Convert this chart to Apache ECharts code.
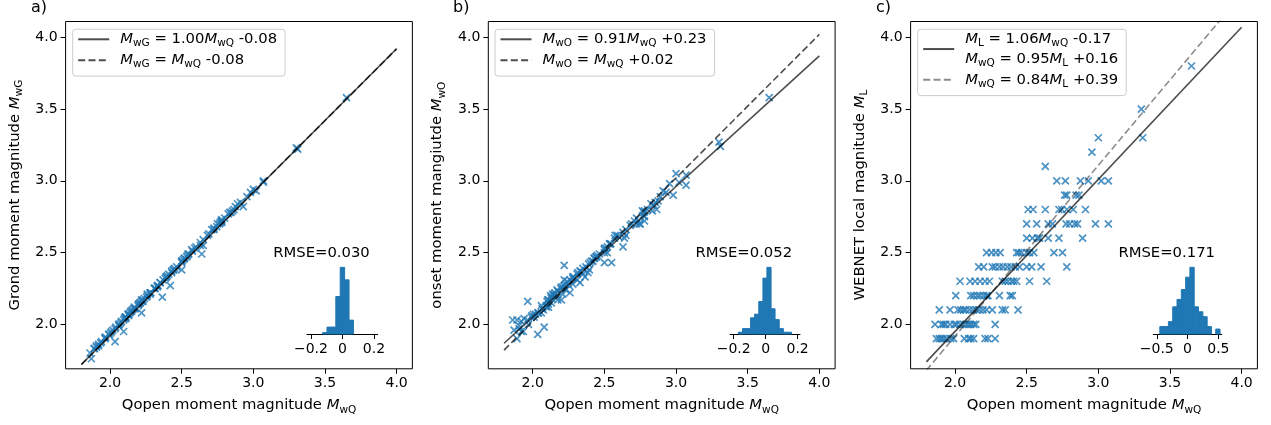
<!DOCTYPE html>
<html><head><meta charset="utf-8">
<script src="https://cdn.jsdelivr.net/npm/echarts@6/dist/echarts.min.js"></script>
<style>html,body{margin:0;padding:0;background:#fff}#c{width:1271px;height:425px}</style>
</head><body><div id="c"></div><script>
// ---------- DATA ----------
const mwQ = [3.65,
 3.30,
 3.00, 3.31,
 2.955,
 2.63,
 2.71, 2.77, 2.875, 2.93, 3.02, 3.07,
 2.765, 2.78, 2.845, 2.865,
 2.51, 2.545, 2.63, 2.725, 2.745, 2.78, 2.825, 2.91,
 2.50, 2.57, 2.65, 2.68, 2.775, 2.80, 2.835, 2.855, 2.98, 3.07,
 2.50, 2.54, 2.575, 2.59, 2.65, 2.725, 2.89,
 2.22, 2.255, 2.285, 2.315, 2.43, 2.445, 2.465, 2.50, 2.52, 2.55, 2.69, 2.75,
 2.165, 2.20, 2.26, 2.28, 2.31, 2.335, 2.365, 2.39, 2.42, 2.45, 2.50, 2.535, 2.60, 2.78,
 2.035, 2.105, 2.14, 2.175, 2.21, 2.24, 2.33, 2.35, 2.37, 2.395, 2.41, 2.43, 2.52, 2.64,
 2.005, 2.11, 2.13, 2.155, 2.175, 2.20, 2.22, 2.23, 2.31, 2.385, 2.40,
 1.89, 1.965, 2.02, 2.04, 2.06, 2.075, 2.10, 2.125, 2.15, 2.17, 2.195, 2.22, 2.26, 2.33, 2.35, 2.44,
 1.86, 1.905, 1.92, 1.935, 1.965, 1.995, 2.01, 2.035, 2.06, 2.08, 2.095, 2.11, 2.13, 2.145, 2.28,
 1.87, 1.89, 1.905, 1.92, 1.94, 1.97, 1.99, 2.065, 2.095, 2.11, 2.13, 2.21, 2.23, 2.28];

const mwG = [3.58,
 3.23,
 2.94, 3.22,
 2.89,
 2.57,
 2.66, 2.71, 2.82, 2.82, 2.93, 2.99,
 2.70, 2.72, 2.78, 2.80,
 2.45, 2.49, 2.55, 2.67, 2.68, 2.73, 2.77, 2.85,
 2.44, 2.52, 2.59, 2.62, 2.72, 2.74, 2.78, 2.79, 2.92, 3.00,
 2.38, 2.48, 2.51, 2.53, 2.55, 2.66, 2.84,
 2.16, 2.19, 2.22, 2.25, 2.37, 2.38, 2.40, 2.44, 2.46, 2.49, 2.63, 2.70,
 2.11, 2.14, 2.20, 2.22, 2.25, 2.27, 2.19, 2.33, 2.27, 2.39, 2.43, 2.47, 2.54, 2.71,
 1.97, 2.05, 2.08, 2.11, 2.15, 2.18, 2.27, 2.29, 2.31, 2.33, 2.35, 2.36, 2.46, 2.49,
 1.94, 2.05, 2.07, 2.10, 2.11, 2.14, 2.08, 2.17, 2.25, 2.32, 2.34,
 1.83, 1.90, 1.96, 1.98, 2.00, 2.01, 2.04, 2.07, 2.09, 2.12, 2.13, 2.17, 2.21, 2.26, 2.29, 2.38,
 1.80, 1.84, 1.86, 1.87, 1.91, 1.93, 1.95, 1.88, 1.99, 2.02, 1.95, 2.05, 2.06, 2.09, 2.22,
 1.76, 1.83, 1.85, 1.85, 1.88, 1.91, 1.93, 2.00, 2.03, 2.04, 2.07, 2.15, 2.16, 2.21];

const mwO = [3.58,
 3.27,
 3.05, 3.24,
 2.98,
 2.64,
 2.72, 2.76, 2.86, 2.92, 2.99, 2.97,
 2.79, 2.75, 2.83, 2.80,
 2.53, 2.56, 2.54, 2.74, 2.70, 2.79, 2.84, 2.93,
 2.52, 2.60, 2.66, 2.69, 2.78, 2.80, 2.79, 2.85, 2.90, 3.04,
 2.43, 2.56, 2.62, 2.62, 2.62, 2.70, 2.89,
 2.31, 2.27, 2.33, 2.36, 2.46, 2.47, 2.49, 2.53, 2.54, 2.43, 2.70, 2.70,
 2.19, 2.17, 2.22, 2.32, 2.35, 2.37, 2.33, 2.42, 2.44, 2.48, 2.50, 2.56, 2.61, 2.72,
 2.08, 2.17, 2.21, 2.23, 2.26, 2.30, 2.37, 2.39, 2.40, 2.38, 2.44, 2.46, 2.50, 2.60,
 2.07, 2.14, 2.19, 2.22, 2.17, 2.26, 2.41, 2.28, 2.31, 2.36, 2.43,
 1.90, 2.16, 2.07, 2.08, 2.13, 2.10, 2.16, 2.20, 2.21, 2.24, 2.25, 2.27, 2.31, 2.29, 2.35, 2.47,
 2.03, 1.97, 2.02, 1.95, 2.03, 2.06, 2.05, 1.93, 2.08, 1.98, 2.12, 2.17, 2.15, 2.20, 2.28,
 1.96, 2.03, 1.99, 1.95, 2.04, 2.00, 2.05, 2.11, 2.13, 2.12, 2.18, 2.21, 2.24, 2.33];

const mL = [3.8,
 3.5,
 3.3, 3.3,
 3.2,
 3.1,
 3.0, 3.0, 3.0, 3.0, 3.0, 3.0,
 2.9, 2.9, 2.9, 2.9,
 2.8, 2.8, 2.8, 2.8, 2.8, 2.8, 2.8, 2.8,
 2.7, 2.7, 2.7, 2.7, 2.7, 2.7, 2.7, 2.7, 2.7, 2.7,
 2.6, 2.6, 2.6, 2.6, 2.6, 2.6, 2.6,
 2.5, 2.5, 2.5, 2.5, 2.5, 2.5, 2.5, 2.5, 2.5, 2.5, 2.5, 2.5,
 2.4, 2.4, 2.4, 2.4, 2.4, 2.4, 2.4, 2.4, 2.4, 2.4, 2.4, 2.4, 2.4, 2.4,
 2.3, 2.3, 2.3, 2.3, 2.3, 2.3, 2.3, 2.3, 2.3, 2.3, 2.3, 2.3, 2.3, 2.3,
 2.2, 2.2, 2.2, 2.2, 2.2, 2.2, 2.2, 2.2, 2.2, 2.2, 2.2,
 2.1, 2.1, 2.1, 2.1, 2.1, 2.1, 2.1, 2.1, 2.1, 2.1, 2.1, 2.1, 2.1, 2.1, 2.1, 2.1,
 2.0, 2.0, 2.0, 2.0, 2.0, 2.0, 2.0, 2.0, 2.0, 2.0, 2.0, 2.0, 2.0, 2.0, 2.0,
 1.9, 1.9, 1.9, 1.9, 1.9, 1.9, 1.9, 1.9, 1.9, 1.9, 1.9, 1.9, 1.9, 1.9];

// fit lines: x end points and y end points
const fitX = [1.8, 4.0];
const fitA_solid = [1.72, 3.92];
const fitA_dash = [1.72, 3.92];
const fitB_solid = [1.868, 3.87];
const fitB_dash = [1.82, 4.02];
const fitC_solid = [1.738, 4.07];
const fitC_dash = [1.679, 4.298];

// residual histograms
const histA_edges = [-0.126, -0.098, -0.070, -0.042, -0.014, 0.014, 0.042, 0.070];
const histA_counts = [1, 5, 5, 27, 48, 39, 10];
const histB_edges = [-0.171, -0.145, -0.120, -0.094, -0.069, -0.043, -0.017, 0.008, 0.034, 0.059, 0.085, 0.111, 0.136, 0.162];
const histB_counts = [1, 3, 3, 9, 11, 18, 31, 37, 14, 8, 3, 1, 1];
const histC_edges = [-0.450, -0.380, -0.311, -0.241, -0.171, -0.101, -0.031, 0.038, 0.108, 0.178, 0.248, 0.318, 0.387, 0.457, 0.527];
const histC_counts = [3, 3, 5, 11, 14, 18, 23, 27, 11, 9, 7, 3, 0, 2];

const rmseLabels = ['RMSE=0.030', 'RMSE=0.052', 'RMSE=0.171'];
const panelLabels = ['a)', 'b)', 'c)'];
const mainTicks = [2.0, 2.5, 3.0, 3.5, 4.0];
const histTicksAB = [-0.2, 0, 0.2];
const histTicksC = [-0.5, 0, 0.5];

// ---------- CHART ----------
const FONT = 'DejaVu Sans';
const FS = 14.8;
const LH = 19.5;
const rich = {
  n: {fontSize: FS, fontFamily: FONT, color: '#000', lineHeight: LH},
  i: {fontSize: FS, fontFamily: FONT, fontStyle: 'italic', color: '#000', lineHeight: LH},
  i0: {fontSize: FS, fontFamily: FONT, fontStyle: 'italic', color: '#000', lineHeight: LH, padding: [0, 0, 0, 6]},
  s: {fontSize: 10.5, fontFamily: FONT, color: '#000', verticalAlign: 'bottom'}
};
const legendText = {
  aFit: '{i0|M}{s|wG}{n| = 1.00}{i|M}{s|wQ}{n| -0.08}',
  aEq: '{i0|M}{s|wG}{n| = }{i|M}{s|wQ}{n| -0.08}',
  bFit: '{i0|M}{s|wO}{n| = 0.91}{i|M}{s|wQ}{n| +0.23}',
  bEq: '{i0|M}{s|wO}{n| = }{i|M}{s|wQ}{n| +0.02}',
  cFit: '{i0|M}{s|L}{n| = 1.06}{i|M}{s|wQ}{n| -0.17}\n{i0|M}{s|wQ}{n| = 0.95}{i|M}{s|L}{n| +0.16}',
  cFit2: '{i0|M}{s|wQ}{n| = 0.84}{i|M}{s|L}{n| +0.39}'
};
const xNames = ['Qopen moment magnitude {i|M}{s|wQ}', 'Qopen moment magnitude {i|M}{s|wQ}', 'Qopen moment magnitude {i|M}{s|wQ}'];
const yNames = ['Grond moment magnitude {i|M}{s|wG}', 'onset moment mangiutde {i|M}{s|wO}', 'WEBNET local magnitude {i|M}{s|L}'];

const mainLeft = [65.6, 488.3, 910.6];
const histBox = [
  {left: 307, width: 70.7, min: -0.225, max: 0.224, ticks: histTicksAB},
  {left: 730, width: 70, min: -0.223, max: 0.215, ticks: histTicksAB},
  {left: 1153.3, width: 68.4, min: -0.556, max: 0.554, ticks: histTicksC}
];
const hists = [[histA_edges, histA_counts], [histB_edges, histB_counts], [histC_edges, histC_counts]];
const ys = [mwG, mwO, mL];
const fits = [
  [['aFit', fitA_solid, 'solid', 0.7], ['aEq', fitA_dash, [7, 3.3], 0.7]],
  [['bFit', fitB_solid, 'solid', 0.7], ['bEq', fitB_dash, [7, 3.3], 0.7]],
  [['cFit', fitC_solid, 'solid', 0.7], ['cFit2', fitC_dash, [7, 3.3], 0.45]]
];
const legendPos = [[72.7, 29.3], [495, 29.3], [917.7, 29.3]];
const rmsePos = [321.5, 743.8, 1166.7];
const titleX = [31, 453, 876];

const grid = [], xAxis = [], yAxis = [], series = [], legend = [], graphic = [], title = [];
const fmtMinus = v => (v === 0 ? '0' : v.toFixed(1).replace('-', '\u2212'));

for (let p = 0; p < 3; p++) {
  const mi = 2 * p, gi = 2 * p + 1;
  grid.push({left: mainLeft[p], top: 21.5, width: 346.8, height: 347.3, show: true,
    borderColor: '#000', borderWidth: 1, backgroundColor: 'transparent', containLabel: false});
  xAxis.push({type: 'value', gridIndex: mi, min: 1.69, max: 4.11,
    axisLine: {show: false}, splitLine: {show: false},
    axisTick: {show: true, length: 5, customValues: mainTicks, lineStyle: {color: '#000', width: 1}},
    axisLabel: {customValues: mainTicks, formatter: v => v.toFixed(1), color: '#000', fontSize: 14, fontFamily: FONT, margin: 8},
    name: xNames[p], nameLocation: 'middle', nameGap: 27,
    nameTextStyle: {fontSize: FS, fontFamily: FONT, color: '#000', rich: rich}
  });
  yAxis.push({type: 'value', gridIndex: mi, min: 1.69, max: 4.11,
    axisLine: {show: false}, splitLine: {show: false},
    axisTick: {show: true, length: 5, customValues: mainTicks, lineStyle: {color: '#000', width: 1}},
    axisLabel: {customValues: mainTicks, formatter: v => v.toFixed(1), color: '#000', fontSize: 14, fontFamily: FONT, margin: 8},
    name: yNames[p], nameLocation: 'middle', nameGap: 41, nameRotate: 90,
    nameTextStyle: {fontSize: FS, fontFamily: FONT, color: '#000', rich: rich}
  });
  series.push({type: 'scatter', xAxisIndex: mi, yAxisIndex: mi, z: 2,
    data: mwQ.map((x, k) => [x, ys[p][k]]),
    symbol: 'path://M0 0L10 10M10 0L0 10', symbolSize: 7,
    itemStyle: {color: 'rgba(0,0,0,0)', borderColor: '#1f77b4', borderWidth: 1.7},
    silent: true});
  fits[p].forEach(f => {
    series.push({type: 'line', name: f[0], xAxisIndex: mi, yAxisIndex: mi, z: 3,
      data: fitX.map((x, k) => [x, f[1][k]]), symbol: 'none', showSymbol: false, clip: true,
      itemStyle: {color: '#000', opacity: f[3]},
      lineStyle: {color: '#000', width: 1.6, type: f[2], opacity: f[3]}, silent: true});
  });
  legend.push({data: fits[p].map(f => f[0]), orient: 'vertical', left: legendPos[p][0], top: legendPos[p][1],
    itemWidth: 31, itemHeight: 14, itemGap: 3.8, padding: [2.5, 8, 6, 4.5],
    itemStyle: {opacity: 0, borderWidth: 0},
    backgroundColor: 'rgba(255,255,255,0.8)', borderColor: '#cccccc', borderWidth: 1, borderRadius: 3,
    selectedMode: false, formatter: name => legendText[name],
    textStyle: {rich: rich, fontSize: FS, fontFamily: FONT, color: '#000'}});

  // inset histogram
  const hb = histBox[p];
  const counts = hists[p][1];
  grid.push({left: hb.left, top: 264, width: hb.width, height: 70, show: false});
  xAxis.push({type: 'value', gridIndex: gi, min: hb.min, max: hb.max,
    axisLine: {show: true, lineStyle: {color: '#000', width: 1}}, splitLine: {show: false},
    axisTick: {show: true, length: 5, customValues: hb.ticks, lineStyle: {color: '#000', width: 1}},
    axisLabel: {customValues: hb.ticks, formatter: fmtMinus, color: '#000', fontSize: 14, fontFamily: FONT, margin: 8}});
  yAxis.push({type: 'value', gridIndex: gi, min: 0, max: Math.max.apply(null, counts) * 1.05, show: false});
  const edges = hists[p][0];
  series.push({type: 'custom', xAxisIndex: gi, yAxisIndex: gi, silent: true, z: 1,
    data: counts.map((c, k) => [edges[k], edges[k + 1], c]),
    encode: {x: [0, 1], y: 2},
    renderItem: (params, api) => {
      const p0 = api.coord([api.value(0), 0]);
      const p1 = api.coord([api.value(1), api.value(2)]);
      const h = p0[1] - p1[1];
      if (h <= 0) return null;
      return {type: 'rect', shape: {x: p0[0], y: p1[1], width: p1[0] - p0[0], height: h},
        style: {fill: '#1f77b4', stroke: '#1f77b4', lineWidth: 1}};
    }});
  graphic.push({type: 'text', x: rmsePos[p], y: 253, style: {text: rmseLabels[p], align: 'center', verticalAlign: 'middle',
    fontSize: FS, fontFamily: FONT, fill: '#000'}});
  title.push({text: panelLabels[p], left: titleX[p], top: 0, padding: 0,
    textStyle: {fontSize: 16, fontWeight: 'normal', fontFamily: FONT, color: '#000'}});
}

const chart = echarts.init(document.getElementById('c'), null, {renderer: 'canvas'});
chart.setOption({animation: false, backgroundColor: '#fff', title, grid, xAxis, yAxis, series, legend, graphic});
</script></body></html>
